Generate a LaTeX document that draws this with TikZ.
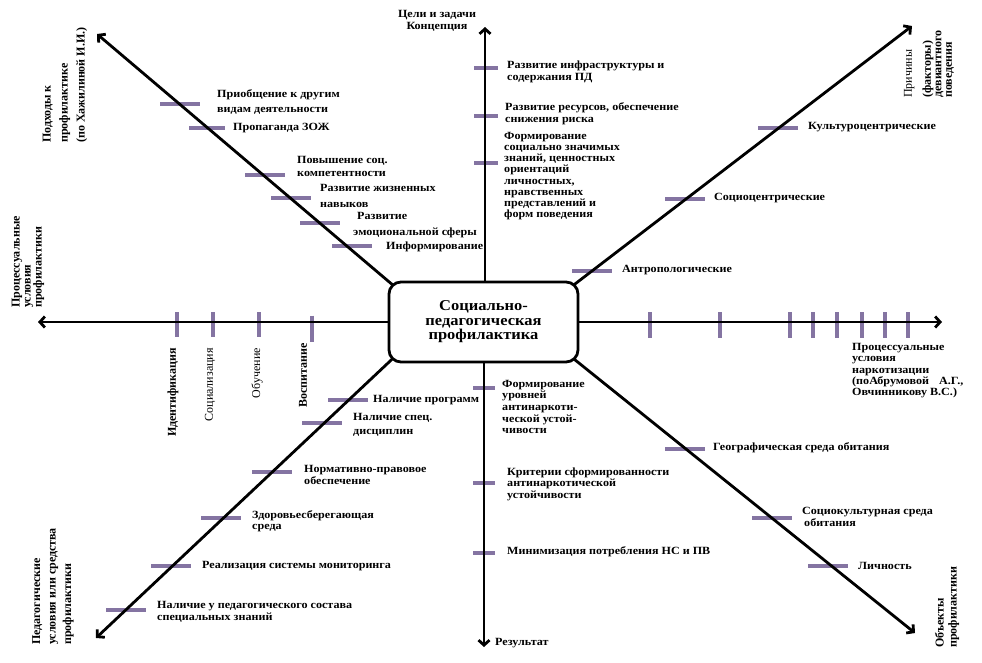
\documentclass[tikz,border=0pt]{standalone}
\usepackage{fontspec}
\setmainfont{Liberation Serif}
\newfontfamily\labfont[FakeStretch=1.1]{Liberation Serif}
\newfontfamily\rotfont{Liberation Serif}
\usetikzlibrary{arrows.meta,backgrounds}
\definecolor{barcol}{RGB}{132,116,162}
\newcommand\tkH[3]{\draw[tickbar] ({#1-#3},#2) -- ({#1+#3},#2);}
\newcommand\tkV[3]{\draw[tickbar] (#1,{#2-#3}) -- (#1,{#2+#3});}
\begin{document}
\begin{tikzpicture}[x=1pt,y=-1pt,
  axis/.style={line width=2.8pt,-{Straight Barb[length=5pt,width=11pt]}},
  tickbar/.style={draw=barcol,line width=3.6pt},
  lsp/.style={font=\labfont\bfseries\fontsize{11}{#1}\selectfont},
  lsp/.default=12,
  rsp/.style={font=\rotfont\bfseries\fontsize{12}{#1}\selectfont},
  rsp/.default=12,
  rreg/.style={font=\rotfont\fontsize{12}{#1}\selectfont},
  rreg/.default=12,
  lab/.style={lsp,align=left,inner sep=0pt,anchor=west},
  rot/.style={rsp,align=left,inner sep=0pt,anchor=west,rotate=90}]
\useasboundingbox (0,0) rectangle (982,662);

% tips
\coordinate (tUL) at (97,34);
\coordinate (tUR) at (912,26);
\coordinate (tLL) at (96,638);
\coordinate (tLR) at (915,633);
\coordinate (tT) at (485,27);
\coordinate (tB) at (484,647);
\coordinate (tL) at (38,322);
\coordinate (tR) at (942,322);

\node[draw,line width=2.8pt,rounded corners=12pt,fill=white,
      minimum width=189pt,minimum height=80pt,inner sep=0pt,align=center,
      font=\labfont\bfseries\fontsize{15}{14.5}\selectfont]
      (core) at (483.5,322) {Социально-\\педагогическая\\профилактика};

\begin{scope}[on background layer]
  \fill[white] (0,0) rectangle (982,662);
  % tick bars
  \tkH{180}{104}{20} \tkH{207}{128}{18} \tkH{265}{175}{20}
  \tkH{291}{198}{20} \tkH{320}{223}{20} \tkH{352}{246}{20}
  \tkH{486}{68}{12} \tkH{486}{116}{12} \tkH{486}{163}{12}
  \tkH{592}{271}{20} \tkH{685}{199}{20} \tkH{778}{128}{20}
  \tkV{177}{324.5}{12.5} \tkV{213}{324.5}{12.5} \tkV{259}{324.5}{12.5} \tkV{312}{328.5}{13}
  \tkV{650}{325}{13} \tkV{720}{325}{13} \tkV{790}{325}{13} \tkV{813}{325}{13}
  \tkV{837}{325}{13} \tkV{862}{325}{13} \tkV{885}{325}{13} \tkV{908}{325}{13}
  \tkH{348}{400}{20} \tkH{322}{423}{20} \tkH{272}{472}{20}
  \tkH{221}{518}{20} \tkH{171}{566}{20} \tkH{126}{610}{20}
  \tkH{484}{388}{11} \tkH{484}{483}{11} \tkH{484}{553}{11}
  \tkH{685}{449}{20} \tkH{772}{518}{20} \tkH{828}{566}{20}
  % axes
  \draw[axis,shorten <=-8pt] (core.north west) -- (tUL);
  \draw[axis,shorten <=-8pt] (core.north east) -- (tUR);
  \draw[axis,shorten <=-8pt] (core.south west) -- (tLL);
  \draw[axis,shorten <=-8pt] (core.south east) -- (tLR);
  \draw[axis] (core.north -| tT) -- (tT);
  \draw[axis] (core.south -| tB) -- (tB);
  \draw[axis] (core.west) -- (tL);
  \draw[axis] (core.east) -- (tR);
\end{scope}

% upper left
\node[lab,lsp=15.5] (a1) at (217,102) {Приобщение к другим\\видам деятельности};
\node[lab] (a2) at (233,128) {Пропаганда ЗОЖ};
\node[lab,lsp=13] (a3) at (297,166) {Повышение соц.\\компетентности};
\node[lab,lsp=16] (a4) at (320,196) {Развитие жизненных\\навыков};
\node[lab,lsp=16] (a5) at (353,225) {\hspace*{4pt}Развитие\\эмоциональной сферы};
\node[lab] (a6) at (386,247) {Информирование};

% top vertical
\node[lab,anchor=center,align=center] (j1) at (437,21) {Цели и задачи\\Концепция};
\node[lab,lsp=11.5] (b1) at (507,72) {Развитие инфраструктуры и\\содержания ПД};
\node[lab,lsp=12] (b2) at (505,114) {Развитие ресурсов, обеспечение\\снижения риска};
\node[lab,lsp=11.2] (b3) at (504,176) {Формирование\\социально значимых\\знаний, ценностных\\ориентаций\\личностных,\\нравственных\\представлений и\\форм поведения};

% upper right
\node[lab] (c1) at (622,270) {Антропологические};
\node[lab] (c2) at (714,198) {Социоцентрические};
\node[lab] (c3) at (808,127) {Культуроцентрические};

% right horizontal
\node[lab,lsp=11.3,anchor=north west] (d1) at (852,343) {Процессуальные\\условия\\наркотизации\\(поАбрумовой\hspace{10pt}А.Г.,\\Овчинникову В.С.)};

% bottom vertical
\node[lab,lsp=11.7] (e1) at (502,407) {Формирование\\уровней\\антинаркоти-\\ческой устой-\\чивости};
\node[lab,lsp=11.5] (e2) at (507,484) {Критерии сформированности\\антинаркотической\\устойчивости};
\node[lab] (e3) at (507,552) {Минимизация потребления НС и ПВ};
\node[lab] (e4) at (495,643) {Результат};

% lower left
\node[lab] (f1) at (373,400) {Наличие программ};
\node[lab,lsp=14] (f2) at (353,425) {Наличие спец.\\дисциплин};
\node[lab,lsp=12] (f3) at (304,475) {Нормативно-правовое\\обеспечение};
\node[lab,lsp=11.5] (f4) at (252,521) {Здоровьесберегающая\\среда};
\node[lab] (f5) at (202,566) {Реализация системы мониторинга};
\node[lab,lsp=11.5] (f6) at (157,612) {Наличие у педагогического состава\\специальных знаний};

% lower right
\node[lab] (g1) at (713,448) {Географическая среда обитания};
\node[lab,lsp=11.5] (g2) at (802,517) {Социокультурная среда\\\hspace*{2pt}обитания};
\node[lab] (g3) at (858,566) {Личность};

% rotated group labels
\node[rot,rsp=17] (h1) at (65,143) {Подходы к\\профилактике\\(по Хажилиной И.И.)};
\node[rot,rsp=10.5] (h2) at (929,98) {{\mdseries Причины}\\[7pt](факторы)\\девиантного\\поведения};
\node[rot,rsp=11] (h3) at (28,308) {Процессуальные\\условия\\профилактики};
\node[rot,rsp=15.5] (h4) at (53,645) {Педагогические\\условия или средства\\профилактики};
\node[rot,rsp=13] (h5) at (947,648) {Объекты\\профилактики};

% left axis labels
\node[rot,anchor=east] (i1) at (173,348) {Идентификация};
\node[rot,anchor=east,rreg] (i2) at (210,348) {Социализация};
\node[rot,anchor=east,rreg] (i3) at (257,348) {Обучение};
\node[rot,anchor=east] (i4) at (303,343) {Воспитание};
\end{tikzpicture}
\end{document}
